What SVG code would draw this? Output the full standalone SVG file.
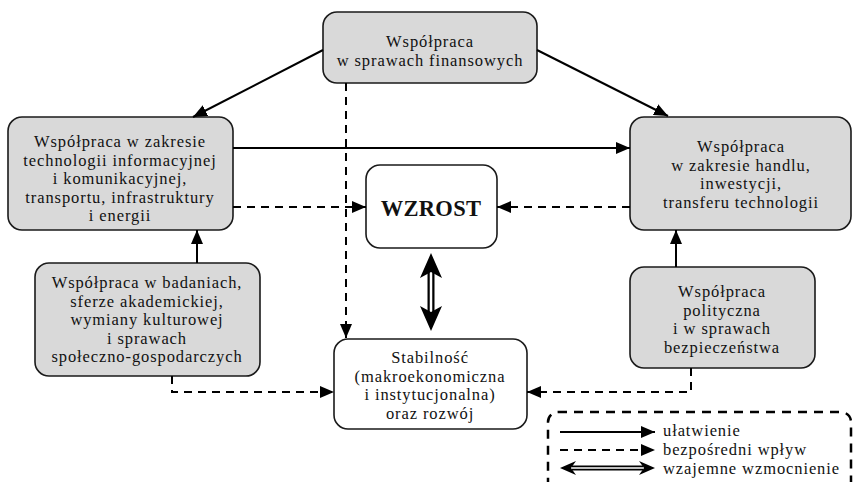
<svg xmlns="http://www.w3.org/2000/svg" width="853" height="482" viewBox="0 0 853 482">
<style>
.node rect{fill:#d9d9d9;stroke:#1a1a1a;stroke-width:1.6}
.node.w rect{fill:#ffffff}
text{font-family:"Liberation Serif","Times New Roman",serif;font-size:16.5px;letter-spacing:0.9px;fill:#111;text-anchor:middle}
.big{font-size:22.5px;font-weight:bold;letter-spacing:0.3px}
.leg text{text-anchor:start}
.c path{stroke:#000;stroke-width:2;fill:none}
.c path.d{stroke-dasharray:8 6}
.ah{fill:#000;stroke:none}
</style>
<defs>
<marker id="arr" markerUnits="userSpaceOnUse" markerWidth="15" markerHeight="12" refX="14" refY="6" orient="auto">
<path d="M0,0 L14,6 L0,12 z" fill="#000"/>
</marker>
</defs>
<rect width="853" height="482" fill="#fff"/>

<g id="n-fin" class="node">
<rect x="323" y="12" width="214" height="71" rx="14"/>
<text x="430" y="47">Współpraca</text>
<text x="430" y="66">w sprawach finansowych</text>
</g>
<g id="n-tech" class="node">
<rect x="8" y="117" width="225" height="113" rx="14"/>
<text x="120" y="147">Współpraca w zakresie</text>
<text x="120" y="165.5">technologii informacyjnej</text>
<text x="120" y="184">i komunikacyjnej,</text>
<text x="120" y="202.5">transportu, infrastruktury</text>
<text x="120" y="221">i energii</text>
</g>
<g id="n-trade" class="node">
<rect x="630" y="117" width="221" height="113" rx="14"/>
<text x="741" y="152">Współpraca</text>
<text x="741" y="170.5">w zakresie handlu,</text>
<text x="741" y="189">inwestycji,</text>
<text x="741" y="207.5">transferu technologii</text>
</g>
<g id="n-wzrost" class="node w">
<rect x="366" y="165" width="131" height="83" rx="14"/>
<text class="big" x="431" y="216">WZROST</text>
</g>
<g id="n-research" class="node">
<rect x="35" y="263" width="225" height="113" rx="14"/>
<text x="147" y="288">Współpraca w badaniach,</text>
<text x="147" y="306.5">sferze akademickiej,</text>
<text x="147" y="325">wymiany kulturowej</text>
<text x="147" y="343.5">i sprawach</text>
<text x="147" y="362">społeczno-gospodarczych</text>
</g>
<g id="n-polit" class="node">
<rect x="630" y="267" width="185" height="101" rx="14"/>
<text x="722" y="297">Współpraca</text>
<text x="722" y="315.5">polityczna</text>
<text x="722" y="334">i w sprawach</text>
<text x="722" y="352.5">bezpieczeństwa</text>
</g>
<g id="n-stab" class="node w">
<rect x="334" y="339" width="193" height="90" rx="14"/>
<text x="430" y="363">Stabilność</text>
<text x="430" y="381.5">(makroekonomiczna</text>
<text x="430" y="400">i instytucjonalna)</text>
<text x="430" y="418.5">oraz rozwój</text>
</g>

<g id="connectors" class="c">
<path d="M323,50 L193,117" marker-end="url(#arr)"/>
<path d="M537,50 L668,116" marker-end="url(#arr)"/>
<path class="d" d="M346,83 V338" marker-end="url(#arr)"/>
<path d="M233,148 H630" marker-end="url(#arr)"/>
<path class="d" d="M233,207 H366" marker-end="url(#arr)"/>
<path class="d" d="M630,207 H497" marker-end="url(#arr)"/>
<path d="M197,263 V230" marker-end="url(#arr)"/>
<path d="M676,267 V230" marker-end="url(#arr)"/>
<path class="d" d="M172,376 V392 H334" marker-end="url(#arr)"/>
<path class="d" d="M691,368 V392 H527" marker-end="url(#arr)"/>
<g id="dbl">
<line x1="431" y1="270" x2="431" y2="314" stroke="#000" stroke-width="7"/>
<line x1="431" y1="270" x2="431" y2="314" stroke="#fff" stroke-width="2.5"/>
<polygon class="ah" points="431,253 442,278 431,272 420,278"/>
<polygon class="ah" points="431,331 442,306 431,312 420,306"/>
</g>
</g>

<g id="legend" class="leg">
<rect x="548" y="412" width="303" height="90" rx="10" fill="none" stroke="#000" stroke-width="2.5" stroke-dasharray="9 7"/>
<g class="c">
<path d="M560,432 H655" marker-end="url(#arr)"/>
<path class="d" d="M560,450 H655" marker-end="url(#arr)"/>
</g>
<line x1="572" y1="468" x2="643" y2="468" stroke="#000" stroke-width="5"/>
<line x1="572" y1="468" x2="643" y2="468" stroke="#fff" stroke-width="1.5"/>
<polygon class="ah" points="560,468 576,461 571,468 576,475"/>
<polygon class="ah" points="655,468 639,461 644,468 639,475"/>
<text x="663" y="436">ułatwienie</text>
<text x="663" y="455">bezpośredni wpływ</text>
<text x="663" y="474">wzajemne wzmocnienie</text>
</g>
</svg>
